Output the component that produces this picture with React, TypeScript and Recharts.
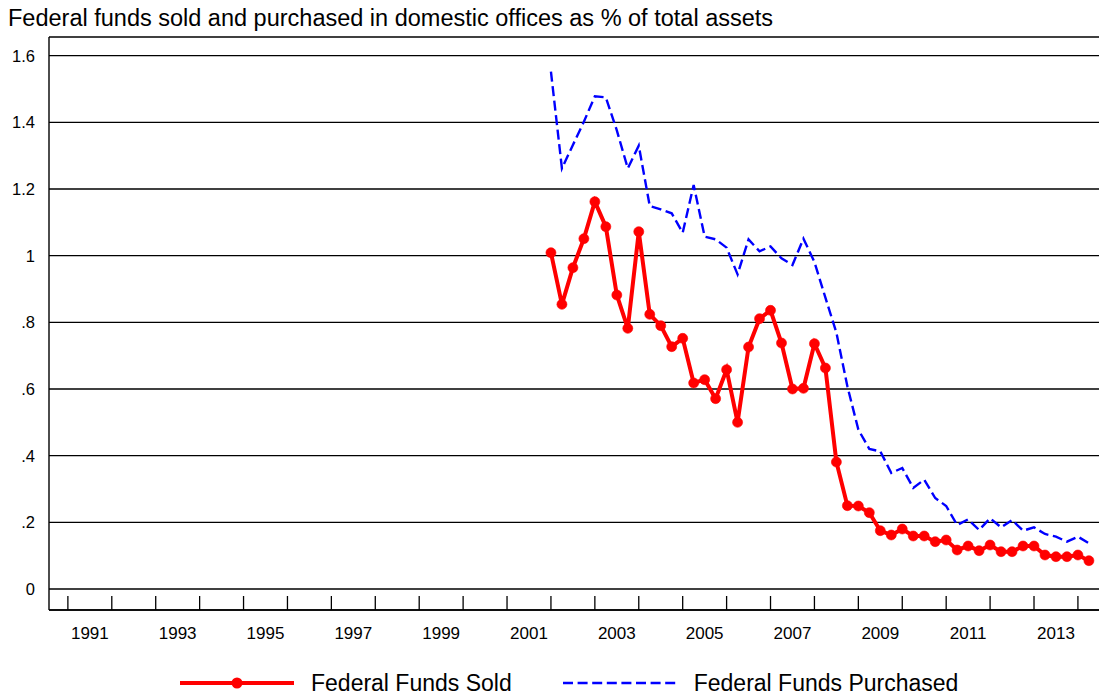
import React from 'react';
import { LineChart, Line, XAxis, YAxis, CartesianGrid, Legend } from 'recharts';

const FONT = '"Liberation Sans", Arial, Helvetica, sans-serif';

const TITLE = 'Federal funds sold and purchased in domestic offices as % of total assets';

const quarters = [
  '2001Q4',
  '2002Q1', '2002Q2', '2002Q3', '2002Q4',
  '2003Q1', '2003Q2', '2003Q3', '2003Q4',
  '2004Q1', '2004Q2', '2004Q3', '2004Q4',
  '2005Q1', '2005Q2', '2005Q3', '2005Q4',
  '2006Q1', '2006Q2', '2006Q3', '2006Q4',
  '2007Q1', '2007Q2', '2007Q3', '2007Q4',
  '2008Q1', '2008Q2', '2008Q3', '2008Q4',
  '2009Q1', '2009Q2', '2009Q3', '2009Q4',
  '2010Q1', '2010Q2', '2010Q3', '2010Q4',
  '2011Q1', '2011Q2', '2011Q3', '2011Q4',
  '2012Q1', '2012Q2', '2012Q3', '2012Q4',
  '2013Q1', '2013Q2', '2013Q3', '2013Q4',
  '2014Q1',
];

const fundsSold = [
  1.009, 0.854, 0.964, 1.051, 1.162, 1.087, 0.882, 0.782, 1.072, 0.824,
  0.790, 0.727, 0.752, 0.618, 0.628, 0.571, 0.658, 0.500, 0.726, 0.811,
  0.836, 0.738, 0.600, 0.602, 0.736, 0.663, 0.381, 0.250, 0.249, 0.229,
  0.175, 0.162, 0.180, 0.159, 0.159, 0.142, 0.147, 0.117, 0.129, 0.115,
  0.132, 0.112, 0.112, 0.129, 0.129, 0.102, 0.097, 0.097, 0.102, 0.085,
];

const fundsPurchased = [
  1.552, 1.262, 1.332, 1.402, 1.478, 1.475, 1.376, 1.262, 1.330, 1.149,
  1.139, 1.127, 1.069, 1.212, 1.057, 1.049, 1.024, 0.944, 1.049, 1.013,
  1.028, 0.992, 0.972, 1.051, 0.981, 0.874, 0.769, 0.608, 0.478, 0.420,
  0.413, 0.348, 0.363, 0.303, 0.328, 0.273, 0.249, 0.192, 0.209, 0.177,
  0.212, 0.185, 0.207, 0.175, 0.185, 0.165, 0.157, 0.142, 0.157, 0.137,
];

const yearBoundaries = [
  1991, 1992, 1993, 1994, 1995, 1996, 1997, 1998, 1999, 2000, 2001, 2002,
  2003, 2004, 2005, 2006, 2007, 2008, 2009, 2010, 2011, 2012, 2013, 2014,
];
const xTickLabels = ['1991', '1993', '1995', '1997', '1999', '2001', '2003', '2005', '2007', '2009', '2011', '2013'];

const yTicks = [0, 0.2, 0.4, 0.6, 0.8, 1, 1.2, 1.4, 1.6];
const yTickLabels = ['0', '.2', '.4', '.6', '.8', '1', '1.2', '1.4', '1.6'];

const legendOrder = ['sold', 'purchased'];

const X_DOMAIN: [number, number] = [1990.57, 2014.48];
const Y_DOMAIN: [number, number] = [-0.063, 1.656];

// quarter label -> decimal year at quarter end
const quarterToTime = (q: string) => Number(q.slice(0, 4)) + Number(q.slice(5)) * 0.25;

const data = quarters.map((q, i) => ({
  t: quarterToTime(q),
  sold: fundsSold[i],
  purchased: fundsPurchased[i],
}));

const labelPositions = xTickLabels.map((s) => Number(s) + 0.5);
const xTicks = [...yearBoundaries, ...labelPositions].sort((a, b) => a - b);

const RED = '#ff0000';
const BLUE = '#0000ff';

const renderXTick = (props: any) => {
  const { x, y, payload } = props;
  const v = payload.value as number;
  if (Number.isInteger(v)) {
    return <line x1={x} x2={x} y1={y - 14} y2={y} stroke="#000" strokeWidth={1.3} />;
  }
  const idx = labelPositions.indexOf(v);
  return (
    <text x={x} y={y + 29} textAnchor="middle" fontFamily={FONT} fontSize={17} fill="#000">
      {xTickLabels[idx]}
    </text>
  );
};

const renderLegend = (props: any) => {
  const payload = [...(props.payload || [])].sort(
    (a: any, b: any) => legendOrder.indexOf(a.dataKey) - legendOrder.indexOf(b.dataKey)
  );
  return (
    <div
      style={{
        display: 'flex',
        alignItems: 'center',
        paddingLeft: 180,
        height: 30,
        fontFamily: FONT,
        fontSize: 23,
        color: '#000',
        whiteSpace: 'nowrap',
      }}
    >
      {payload.map((entry: any, i: number) => {
        const isSold = entry.dataKey === 'sold';
        return (
          <React.Fragment key={i}>
            <svg width={114} height={14} style={{ display: 'block' }}>
              {isSold ? (
                <>
                  <line x1={0} x2={114} y1={7} y2={7} stroke={RED} strokeWidth={4} />
                  <circle cx={57} cy={7} r={5.5} fill={RED} />
                </>
              ) : (
                <line x1={0} x2={114} y1={7} y2={7} stroke={BLUE} strokeWidth={2.4} strokeDasharray="10 4.6" />
              )}
            </svg>
            <span style={{ marginLeft: 17, marginRight: i === 0 ? 51 : 0, lineHeight: '26px' }}>
              {entry.value}
            </span>
          </React.Fragment>
        );
      })}
    </div>
  );
};

export default function App() {
  return (
    <div
      style={{
        position: 'absolute',
        left: 0,
        top: 0,
        width: 1099,
        height: 698,
        overflow: 'hidden',
        background: '#fff',
      }}
    >
      <div
        style={{
          position: 'absolute',
          left: 8,
          top: 7,
          fontFamily: FONT,
          fontSize: 23.5,
          lineHeight: '23px',
          color: '#000',
          whiteSpace: 'nowrap',
        }}
      >
        {TITLE}
      </div>
      <LineChart
        width={1099}
        height={698}
        data={data}
        margin={{ top: 37, right: 0, left: 0, bottom: 58 }}
      >
        <CartesianGrid horizontal={true} vertical={false} stroke="#000" strokeWidth={1.4} />
        <XAxis
          dataKey="t"
          type="number"
          domain={X_DOMAIN}
          allowDataOverflow
          ticks={xTicks}
          interval={0}
          tick={renderXTick}
          tickLine={false}
          tickSize={0}
          tickMargin={0}
          height={30}
          axisLine={{ stroke: '#000', strokeWidth: 1.4 }}
        />
        <YAxis
          type="number"
          domain={Y_DOMAIN}
          allowDataOverflow
          ticks={yTicks}
          interval={0}
          tickFormatter={(v: number) => yTickLabels[yTicks.indexOf(v)] ?? String(v)}
          tick={{ fill: '#000', fontFamily: FONT, fontSize: 16.5 }}
          tickLine={false}
          tickSize={0}
          tickMargin={14}
          width={49}
          axisLine={{ stroke: '#000', strokeWidth: 1.4 }}
        />
        <Legend
          layout="vertical"
          align="center"
          verticalAlign="middle"
          content={renderLegend}
          wrapperStyle={{ left: 0, top: 668, width: 1099, height: 30 }}
        />
        <Line
          type="linear"
          dataKey="purchased"
          name="Federal Funds Purchased"
          stroke={BLUE}
          strokeWidth={2.4}
          strokeDasharray="10 4.6"
          dot={false}
          activeDot={false}
          isAnimationActive={false}
        />
        <Line
          type="linear"
          dataKey="sold"
          name="Federal Funds Sold"
          stroke={RED}
          strokeWidth={4}
          dot={{ r: 5, fill: RED, stroke: RED, strokeWidth: 0.6 }}
          activeDot={false}
          isAnimationActive={false}
        />
      </LineChart>
    </div>
  );
}
